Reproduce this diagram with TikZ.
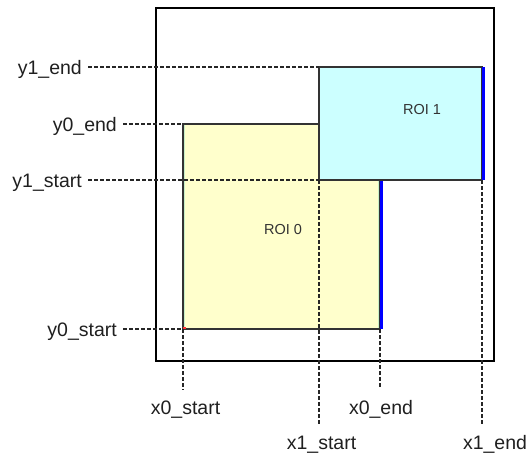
\documentclass[tikz,border=0pt]{standalone}
\usepackage{fontspec}
\setmainfont{Liberation Sans}
\definecolor{roiyel}{HTML}{FFFFCC}
\definecolor{roicyan}{HTML}{CCFFFF}
\definecolor{roiedge}{HTML}{333333}
\definecolor{roigreen}{HTML}{C8F0C8}
\begin{document}
\begin{tikzpicture}[x=1pt,y=-1pt,
  frame/.style={draw=black,line width=1.4pt,inner sep=0pt,outer sep=0pt,anchor=north west},
  roibox/.style={draw=roiedge,line width=1.3pt,inner sep=0pt,outer sep=0pt,anchor=north west},
  bluebar/.style={draw=blue,line width=3.2pt},
  guide/.style={draw=black!85,line width=1.2pt,dash pattern=on 4pt off 2pt},
  lbl/.style={font=\fontsize{19.5}{23}\selectfont,text=black!88,inner sep=0pt},
  hlbl/.style={lbl,anchor=base east,inner xsep=6pt},
  vlbl/.style={lbl,anchor=base,inner ysep=11pt},
  roilbl/.style={font=\fontsize{14.5}{17}\selectfont,text=roiedge,inner sep=0pt}]
\useasboundingbox (0,0) rectangle (530,458);
% outer frame
\node[frame,minimum width=338pt,minimum height=353pt] (fr) at (156,8) {};
% ROI 0
\node[roibox,fill=roiyel,minimum width=197pt,minimum height=205pt] (roi0) at (183,124) {};
\draw[roigreen,line width=1pt] ([xshift=1.2pt,yshift=-0.7pt]roi0.north west) -- ([xshift=1.2pt,yshift=0.7pt]roi0.south west);
\draw[roigreen,line width=1pt] ([xshift=-1.2pt,yshift=-0.7pt]roi0.north east) -- ([xshift=-1.2pt,yshift=0.7pt]roi0.south east);
\draw[bluebar] ([xshift=1.2pt]roi0.north east) -- ([xshift=1.2pt]roi0.south east);
\fill[red!80] (roi0.south west) rectangle ++(2.5,-2.5);
\node[roilbl] (t0) at (283,230) {ROI 0};
% ROI 1
\node[roibox,fill=roicyan,minimum width=163pt,minimum height=113pt] (roi1) at (319,67) {};
\draw[bluebar] ([xshift=1.2pt]roi1.north east) -- ([xshift=1.2pt]roi1.south east);
\node[roilbl] (t1) at (422,110) {ROI 1};
% horizontal labels
\node[hlbl] (ly1e) at (88,74) {y1\_end};
\node[hlbl] (ly0e) at (123,131) {y0\_end};
\node[hlbl] (ly1s) at (88,187) {y1\_start};
\node[hlbl] (ly0s) at (123,336) {y0\_start};
\draw[guide] (ly1e.east |- roi1.north west) -- (roi1.north west);
\draw[guide] (ly0e.east |- roi0.north west) -- (roi0.north west);
\draw[guide] (ly1s.east |- roi1.south west) -- (roi1.south west);
\draw[guide] (ly0s.east |- roi0.south west) -- (roi0.south west);
% vertical labels
\node[vlbl] (lx0s) at (185.5,414) {x0\_start};
\node[vlbl] (lx0e) at (381,414) {x0\_end};
\node[vlbl] (lx1s) at (321.5,449) {x1\_start};
\node[vlbl] (lx1e) at (495,449) {x1\_end};
\draw[guide] (roi0.south west) -- (roi0.south west |- lx0s.north);
\draw[guide] (roi0.south east) -- (roi0.south east |- lx0e.north);
\draw[guide] (roi1.south west) -- (roi1.south west |- lx1s.north);
\draw[guide] (roi1.south east) -- (roi1.south east |- lx1e.north);
\end{tikzpicture}
\end{document}
